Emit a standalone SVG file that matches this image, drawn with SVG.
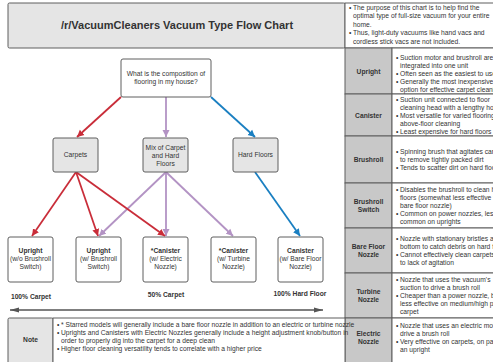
<svg xmlns="http://www.w3.org/2000/svg" width="493" height="362" viewBox="0 0 493 362">
<defs>
<style>
text{font-family:"Liberation Sans",Arial,sans-serif;fill:#333;font-size:6.7px}
.t{font-size:11px;font-weight:bold;text-anchor:middle}
.c{text-anchor:middle}
.b{font-weight:bold}
.box{stroke:#5e5e5e;stroke-width:1}
.lt{fill:#e5e5e5}
.dk{fill:#c8c8c8}
.wh{fill:#fff}
.red{stroke:#c92d39;stroke-width:1.8;fill:none}
.pur{stroke:#b393c4;stroke-width:1.8;fill:none}
.blu{stroke:#1a7fc1;stroke-width:1.8;fill:none}
</style>
<marker id="ar" markerWidth="8" markerHeight="8" refX="7" refY="4" orient="auto" markerUnits="userSpaceOnUse"><path d="M0,0.5 L7,4 L0,7.5 z" fill="#c92d39"/></marker>
<marker id="ap" markerWidth="8" markerHeight="8" refX="7" refY="4" orient="auto" markerUnits="userSpaceOnUse"><path d="M0,0.5 L7,4 L0,7.5 z" fill="#b393c4"/></marker>
<marker id="ab" markerWidth="8" markerHeight="8" refX="7" refY="4" orient="auto" markerUnits="userSpaceOnUse"><path d="M0,0.5 L7,4 L0,7.5 z" fill="#1a7fc1"/></marker>
<marker id="ag" markerWidth="10" markerHeight="8" refX="9" refY="4" orient="auto-start-reverse" markerUnits="userSpaceOnUse"><path d="M0,1.5 L9,4 L0,6.5 z" fill="#555"/></marker>
</defs>
<rect width="493" height="362" fill="#fff"/>

<g id="title">
<rect class="box lt" x="8" y="3" width="337" height="45" rx="1.5"/>
<text class="t" x="177" y="29">/r/VacuumCleaners Vacuum Type Flow Chart</text>
</g>

<g id="info">
<rect class="box wh" x="345" y="3" width="150" height="45"/>
<text x="349" y="9.5">•</text>
<text x="353" y="9.5">The purpose of this chart is to help find the</text>
<text x="353" y="18">optimal type of full-size vacuum for your entire</text>
<text x="353" y="26.5">home.</text>
<text x="349" y="35">•</text>
<text x="353" y="35">Thus, light-duty vacuums like hand vacs and</text>
<text x="353" y="43.5">cordless stick vacs are not included.</text>
</g>

<g id="table">
<rect class="box dk" x="345" y="48" width="47" height="46"/>
<rect class="box wh" x="392" y="48" width="103" height="46"/>
<text class="c b" x="368.5" y="73.5">Upright</text>
<text x="396" y="59.5">•</text><text x="400" y="59.5">Suction motor and brushroll are</text>
<text x="400" y="67.5">integrated into one unit</text>
<text x="396" y="75.5">•</text><text x="400" y="75.5">Often seen as the easiest to use</text>
<text x="396" y="83.5">•</text><text x="400" y="83.5">Generally the most inexpensive</text>
<text x="400" y="91.5">option for effective carpet cleaning</text>

<rect class="box dk" x="345" y="94" width="47" height="42"/>
<rect class="box wh" x="392" y="94" width="103" height="42"/>
<text class="c b" x="368.5" y="117.5">Canister</text>
<text x="396" y="101.5">•</text><text x="400" y="101.5">Suction unit connected to floor</text>
<text x="400" y="109.5">cleaning head with a lengthy hose</text>
<text x="396" y="117.5">•</text><text x="400" y="117.5">Most versatile for varied flooring and</text>
<text x="400" y="125.5">above-floor cleaning</text>
<text x="396" y="133.5">•</text><text x="400" y="133.5">Least expensive for hard floors</text>

<rect class="box dk" x="345" y="136" width="47" height="47"/>
<rect class="box wh" x="392" y="136" width="103" height="47"/>
<text class="c b" x="368.5" y="162">Brushroll</text>
<text x="396" y="154">•</text><text x="400" y="154">Spinning brush that agitates carpet</text>
<text x="400" y="162">to remove tightly packed dirt</text>
<text x="396" y="170">•</text><text x="400" y="170">Tends to scatter dirt on hard floors</text>

<rect class="box dk" x="345" y="183" width="47" height="45"/>
<rect class="box wh" x="392" y="183" width="103" height="45"/>
<text class="c b" x="368.5" y="204">Brushroll</text>
<text class="c b" x="368.5" y="212">Switch</text>
<text x="396" y="192">•</text><text x="400" y="192">Disables the brushroll to clean hard</text>
<text x="400" y="200">floors (somewhat less effective than</text>
<text x="400" y="208">bare floor nozzle)</text>
<text x="396" y="216">•</text><text x="400" y="216">Common on power nozzles, less</text>
<text x="400" y="224">common on uprights</text>

<rect class="box dk" x="345" y="228" width="47" height="45"/>
<rect class="box wh" x="392" y="228" width="103" height="45"/>
<text class="c b" x="368.5" y="249">Bare Floor</text>
<text class="c b" x="368.5" y="257">Nozzle</text>
<text x="396" y="241">•</text><text x="400" y="241">Nozzle with stationary bristles at the</text>
<text x="400" y="249">bottom to catch debris on hard floors</text>
<text x="396" y="257">•</text><text x="400" y="257">Cannot effectively clean carpets due</text>
<text x="400" y="265">to lack of agitation</text>

<rect class="box dk" x="345" y="273" width="47" height="45"/>
<rect class="box wh" x="392" y="273" width="103" height="45"/>
<text class="c b" x="368.5" y="294">Turbine</text>
<text class="c b" x="368.5" y="302">Nozzle</text>
<text x="396" y="282">•</text><text x="400" y="282">Nozzle that uses the vacuum's</text>
<text x="400" y="290">suction to drive a brush roll</text>
<text x="396" y="298">•</text><text x="400" y="298">Cheaper than a power nozzle, but</text>
<text x="400" y="306">less effective on medium/high pile</text>
<text x="400" y="314">carpet</text>

<rect class="box dk" x="345" y="318" width="47" height="50"/>
<rect class="box wh" x="392" y="318" width="103" height="50"/>
<text class="c b" x="368.5" y="335.5">Electric</text>
<text class="c b" x="368.5" y="343.5">Nozzle</text>
<text x="396" y="327.5">•</text><text x="400" y="327.5">Nozzle that uses an electric motor to</text>
<text x="400" y="335.5">drive a brush roll</text>
<text x="396" y="343.5">•</text><text x="400" y="343.5">Very effective on carpets, on par with</text>
<text x="400" y="351.5">an upright</text>
</g>

<g id="note">
<rect class="box lt" x="8" y="318" width="45" height="50" rx="1.5"/>
<rect class="box wh" x="53" y="318" width="292" height="50"/>
<text class="c b" x="30.5" y="341.5">Note</text>
<text x="57" y="327">•</text><text x="61" y="327">* Starred models will generally include a bare floor nozzle in addition to an electric or turbine nozzle</text>
<text x="57" y="335">•</text><text x="61" y="335">Uprights and Canisters with Electric Nozzles generally include a height adjustment knob/button in</text>
<text x="61" y="343">order to properly dig into the carpet for a deep clean</text>
<text x="57" y="351">•</text><text x="61" y="351">Higher floor cleaning versatility tends to correlate with a higher price</text>
</g>

<g id="connectors">
<line class="red" x1="121" y1="97" x2="77" y2="137" marker-end="url(#ar)"/>
<line class="pur" x1="166" y1="97" x2="166" y2="137" marker-end="url(#ap)"/>
<line class="blu" x1="211" y1="97" x2="255" y2="137" marker-end="url(#ab)"/>
<line class="pur" x1="166" y1="172" x2="99" y2="236" marker-end="url(#ap)"/>
<line class="pur" x1="166" y1="172" x2="166" y2="236" marker-end="url(#ap)"/>
<line class="pur" x1="166" y1="172" x2="233" y2="236" marker-end="url(#ap)"/>
<line class="red" x1="76" y1="172" x2="32" y2="236" marker-end="url(#ar)"/>
<line class="red" x1="76" y1="172" x2="98" y2="236" marker-end="url(#ar)"/>
<line class="red" x1="76" y1="172" x2="165" y2="236" marker-end="url(#ar)"/>
<line class="blu" x1="255" y1="172" x2="300" y2="236" marker-end="url(#ab)"/>
<line x1="10" y1="310" x2="323" y2="310" stroke="#555" stroke-width="1.5" marker-start="url(#ag)" marker-end="url(#ag)"/>
</g>

<g id="question">
<rect class="box wh" x="121" y="59" width="90" height="38" rx="2"/>
<text class="c" x="166" y="75.5">What is the composition of</text>
<text class="c" x="166" y="83.5">flooring in my house?</text>
</g>
<g id="carpets">
<rect class="box lt" x="53" y="138" width="45" height="34" rx="2"/>
<text class="c" x="75.5" y="157">Carpets</text>
</g>
<g id="mix">
<rect class="box lt" x="143" y="138" width="45" height="34" rx="2"/>
<text class="c" x="165.5" y="149.5">Mix of Carpet</text>
<text class="c" x="165.5" y="157.5">and Hard</text>
<text class="c" x="165.5" y="165.5">Floors</text>
</g>
<g id="hard">
<rect class="box lt" x="233" y="138" width="45" height="34" rx="2"/>
<text class="c" x="255.5" y="157">Hard Floors</text>
</g>

<g id="upright-wo">
<rect class="box wh" x="8" y="237" width="45" height="45" rx="2"/>
<text class="c b" x="30.5" y="252.5">Upright</text>
<text class="c" x="30.5" y="260.5">(w/o Brushroll</text>
<text class="c" x="30.5" y="268.5">Switch)</text>
</g>
<g id="upright-w">
<rect class="box wh" x="76" y="237" width="45" height="45" rx="2"/>
<text class="c b" x="98.5" y="252.5">Upright</text>
<text class="c" x="98.5" y="260.5">(w/ Brushroll</text>
<text class="c" x="98.5" y="268.5">Switch)</text>
</g>
<g id="canister-electric">
<rect class="box wh" x="143" y="237" width="45" height="45" rx="2"/>
<text class="c b" x="165.5" y="252.5">*Canister</text>
<text class="c" x="165.5" y="260.5">(w/ Electric</text>
<text class="c" x="165.5" y="268.5">Nozzle)</text>
</g>
<g id="canister-turbine">
<rect class="box wh" x="211" y="237" width="45" height="45" rx="2"/>
<text class="c b" x="233.5" y="252.5">*Canister</text>
<text class="c" x="233.5" y="260.5">(w/ Turbine</text>
<text class="c" x="233.5" y="268.5">Nozzle)</text>
</g>
<g id="canister-bare">
<rect class="box wh" x="278" y="237" width="45" height="45" rx="2"/>
<text class="c b" x="300.5" y="252.5">Canister</text>
<text class="c" x="300.5" y="260.5">(w/ Bare Floor</text>
<text class="c" x="300.5" y="268.5">Nozzle)</text>
</g>

<g id="labels">
<text class="c b" x="31" y="298.5">100% Carpet</text>
<text class="c b" x="166" y="296.5">50% Carpet</text>
<text class="c b" x="300" y="295.5">100% Hard Floor</text>
</g>
</svg>
